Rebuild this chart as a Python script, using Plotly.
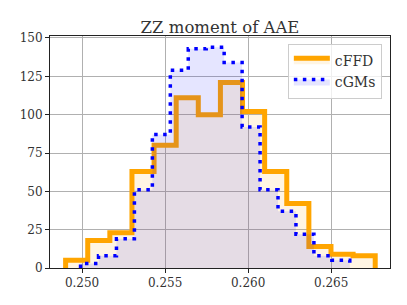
import numpy as np
import plotly.graph_objects as go

# ---- data ----
ffd_label = "cFFD"
ffd_bin_start = 0.24901
ffd_bin_end = 0.26765
ffd_counts = [5, 18, 23, 63, 80, 111, 100, 121, 102, 63, 42, 14, 9, 8]

gms_label = "cGMs"
gms_bin_start = 0.24991
gms_bin_end = 0.26612
gms_counts = [3, 8, 19, 51, 87, 129, 143, 144, 134, 92, 51, 37, 22, 8, 5]

title_text = "ZZ moment of AAE"
x_tick_vals = [0.250, 0.255, 0.260, 0.265]
x_tick_text = ["0.250", "0.255", "0.260", "0.265"]
y_tick_vals = [0, 25, 50, 75, 100, 125, 150]


def step_xy(start, end, counts):
    edges = np.linspace(start, end, len(counts) + 1)
    xs = [edges[0]] + list(edges[:-1]) + [edges[-1], edges[-1]]
    ys = [0] + list(counts) + [counts[-1], 0]
    return xs, ys


FONT = "DejaVu Serif"

fig = go.Figure()

fx, fy = step_xy(ffd_bin_start, ffd_bin_end, ffd_counts)
fig.add_trace(go.Scatter(
    x=fx, y=fy, mode="lines", name=ffd_label,
    line=dict(color="#FFA500", width=5, shape="hv"),
    fill="tozeroy", fillcolor="rgba(255,165,0,0.11)",
))

gx, gy = step_xy(gms_bin_start, gms_bin_end, gms_counts)
fig.add_trace(go.Scatter(
    x=gx, y=gy, mode="lines", name=gms_label,
    line=dict(color="#0000FF", width=3.5, shape="hv", dash="3.5px,5.5px"),
    fill="tozeroy", fillcolor="rgba(0,0,255,0.1)",
))

# the page body has an 8px margin, so the figure is drawn 8px in from the top-left
fig.update_layout(
    width=399, height=297,
    margin=dict(l=35, r=17, t=28, b=37, pad=0),
    paper_bgcolor="white", plot_bgcolor="white",
    font=dict(family=FONT, size=12, color="#333"),
    title=dict(text=title_text, x=0.5, xref="paper", xanchor="center",
               y=1, yref="paper", yanchor="bottom", pad=dict(b=3),
               font=dict(family=FONT, size=16.5, color="#333")),
    showlegend=True,
    legend=dict(x=0.976, y=0.967, xanchor="right", yanchor="top",
                bgcolor="rgba(255,255,255,0.8)", bordercolor="#cccccc",
                borderwidth=1, font=dict(family=FONT, size=14, color="#333"),
                itemwidth=36),
)

fig.update_xaxes(
    range=[0.24807, 0.26854], tickvals=x_tick_vals, ticktext=x_tick_text,
    showgrid=True, gridcolor="#b0b0b0", gridwidth=1,
    showline=True, linecolor="#222", linewidth=1, mirror=True,
    ticks="outside", ticklen=4, tickcolor="#222", zeroline=False,
)
fig.update_yaxes(
    range=[0, 151.3], tickvals=y_tick_vals,
    showgrid=True, gridcolor="#b0b0b0", gridwidth=1,
    showline=True, linecolor="#222", linewidth=1, mirror=True,
    ticks="outside", ticklen=4, tickcolor="#222", zeroline=False,
)

fig.write_html("out.html")
